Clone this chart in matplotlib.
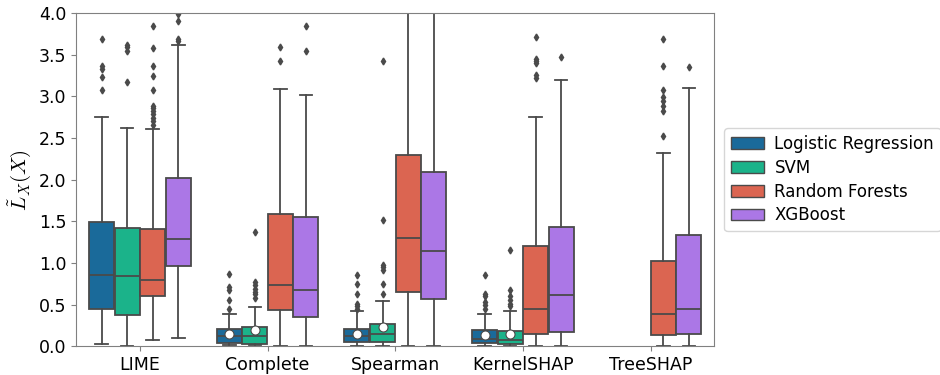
import numpy as np
import matplotlib.pyplot as plt
from matplotlib.patches import Patch

plt.rcParams['mathtext.fontset'] = 'cm'

methods = ['LIME', 'Complete', 'Spearman', 'KernelSHAP', 'TreeSHAP']
models = ['Logistic Regression', 'SVM', 'Random Forests', 'XGBoost']
colors = ['#1a6a9a', '#1bb38a', '#db6551', '#ab77e6']

# per model: one entry per method, None where the method does not apply
q1 = {
    'Logistic Regression': [0.445, 0.04, 0.045, 0.04, None],
    'SVM': [0.37, 0.03, 0.045, 0.02, None],
    'Random Forests': [0.605, 0.43, 0.645, 0.148, 0.13],
    'XGBoost': [0.965, 0.345, 0.565, 0.17, 0.14],
}
med = {
    'Logistic Regression': [0.857, 0.12, 0.12, 0.09, None],
    'SVM': [0.84, 0.12, 0.14, 0.076, None],
    'Random Forests': [0.79, 0.73, 1.30, 0.45, 0.39],
    'XGBoost': [1.29, 0.68, 1.145, 0.62, 0.445],
}
q3 = {
    'Logistic Regression': [1.49, 0.20, 0.21, 0.19, None],
    'SVM': [1.42, 0.23, 0.27, 0.18, None],
    'Random Forests': [1.41, 1.583, 2.30, 1.205, 1.02],
    'XGBoost': [2.02, 1.547, 2.095, 1.435, 1.335],
}
whis_lo = {
    'Logistic Regression': [0.03, 0.008, 0.005, 0.005, None],
    'SVM': [0.005, 0.01, 0.005, 0.005, None],
    'Random Forests': [0.076, 0.0, 0.0, 0.0, 0.0],
    'XGBoost': [0.10, 0.0, 0.0, 0.0, 0.0],
}
whis_hi = {
    'Logistic Regression': [2.75, 0.38, 0.42, 0.39, None],
    'SVM': [2.62, 0.47, 0.54, 0.42, None],
    'Random Forests': [2.61, 3.09, 4.6, 2.75, 2.32],
    'XGBoost': [3.62, 3.02, 4.6, 3.20, 3.10],
}
outliers = {
    'Logistic Regression': [
        [3.69, 3.36, 3.33, 3.23, 3.08],
        [0.87, 0.71, 0.67, 0.56, 0.45],
        [0.86, 0.75, 0.63, 0.505, 0.48, 0.45],
        [0.86, 0.63, 0.60, 0.53, 0.49, 0.45],
        [],
    ],
    'SVM': [
        [3.62, 3.59, 3.54, 3.17],
        [1.37, 0.77, 0.73, 0.69, 0.65, 0.625, 0.58],
        [3.42, 1.51, 0.97, 0.95, 0.92, 0.745, 0.63],
        [1.15, 0.68, 0.60, 0.55, 0.51, 0.48],
        [],
    ],
    'Random Forests': [
        [3.84, 3.58, 3.37, 3.24, 3.08, 2.88, 2.86, 2.82, 2.79, 2.74, 2.70, 2.66],
        [3.59, 3.43],
        [],
        [3.71, 3.45, 3.42, 3.40, 3.26, 3.22],
        [3.69, 3.37, 3.08, 2.99, 2.94, 2.88, 2.83, 2.52],
    ],
    'XGBoost': [
        [3.99, 3.90, 3.69, 3.66],
        [3.85, 3.55],
        [],
        [3.47],
        [3.35],
    ],
}
# white markers drawn on the linear / SVM boxes
mean_marks = {
    'Logistic Regression': [None, 0.14, 0.15, 0.13, None],
    'SVM': [None, 0.19, 0.23, 0.15, None],
}

fig = plt.figure(figsize=(9.4, 3.75), dpi=100)
ax = fig.add_axes([0.081, 0.077, 0.679, 0.888])

width = 0.8 / len(models)
edge = '#4a4a4a'
for j, model in enumerate(models):
    offset = -0.4 + width * (j + 0.5)
    stats, pos = [], []
    for i in range(len(methods)):
        if q1[model][i] is None:
            continue
        stats.append(dict(q1=q1[model][i], med=med[model][i], q3=q3[model][i],
                          whislo=whis_lo[model][i], whishi=whis_hi[model][i],
                          fliers=outliers[model][i]))
        pos.append(i + offset)
    ax.bxp(stats, positions=pos, widths=width * 0.98, patch_artist=True,
           showfliers=True, manage_ticks=False,
           boxprops=dict(facecolor=colors[j], edgecolor=edge, linewidth=1.3),
           medianprops=dict(color=edge, linewidth=1.3),
           whiskerprops=dict(color=edge, linewidth=1.3),
           capprops=dict(color=edge, linewidth=1.3),
           flierprops=dict(marker='d', markersize=3.5, markerfacecolor=edge,
                           markeredgecolor=edge))
    if model in mean_marks:
        xs = [i + offset for i, m in enumerate(mean_marks[model]) if m is not None]
        ys = [m for m in mean_marks[model] if m is not None]
        ax.plot(xs, ys, 'o', color='white', markeredgecolor=edge,
                markeredgewidth=0.8, markersize=6.5, zorder=5)

ax.set_xlim(-0.5, len(methods) - 0.5)
ax.set_ylim(0, 4.0)
ax.set_xticks(range(len(methods)))
ax.set_xticklabels(methods)
ax.set_yticks(np.arange(0, 4.01, 0.5))
ax.tick_params(labelsize=12.5, color='#808080')
for s in ax.spines.values():
    s.set_color('#808080')
ax.set_ylabel(r'$\tilde{L}_X(X)$', fontsize=15)

handles = [Patch(facecolor=c, edgecolor=edge, label=m) for c, m in zip(colors, models)]
ax.legend(handles=handles, loc='center left', bbox_to_anchor=(1.0, 0.5),
          fontsize=12, handlelength=2.0, handletextpad=0.6, labelspacing=0.35,
          borderpad=0.4, borderaxespad=0.6)

fig.savefig('out.png', dpi=100)
